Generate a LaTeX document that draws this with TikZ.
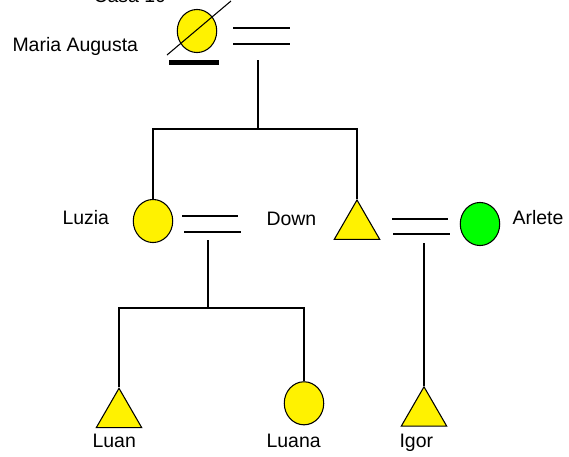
\documentclass[tikz,border=0pt]{standalone}
\usepackage{fontspec}
\setmainfont{Liberation Sans}
\usetikzlibrary{shapes.geometric}
\tikzset{
  fem/.style={draw, ellipse, fill=yellow, inner sep=0pt, minimum width=29.6pt, minimum height=32.3pt},
  fembox/.style={fem, fill=green},
  masc/.style={draw, regular polygon, regular polygon sides=3, fill=yellow, inner sep=0pt, minimum size=39.3pt},
  nome/.style={font=\fontsize{14.6}{17}\selectfont, inner sep=0pt, anchor=base west},
}
\begin{document}
\begin{tikzpicture}[x=0.75pt, y=-0.75pt, line width=0.8pt]
\useasboundingbox (0,0) rectangle (569,457);
\node[nome] (casa) at (93,2) {Casa 10};
\node[fem] (maria) at (197,31) {};
\node[nome] (mariaT) at (12,51) {Maria Augusta};
\draw (167,55) -- (231,1);
\fill (169,60) rectangle (219,65);
\node[fem] (luzia) at (153,221) {};
\node[nome] (luziaT) at (62,224.5) {Luzia};
\node[masc] (down) at (357,226.2) {};
\node[nome] (downT) at (266,225) {Down};
\node[fembox] (arlete) at (480,224) {};
\node[nome] (arleteT) at (512,224.5) {Arlete};
\node[masc] (luan) at (119,414.5) {};
\node[nome] (luanT) at (92,447.5) {Luan};
\node[fem] (luana) at (304,403.3) {};
\node[nome] (luanaT) at (266,447.5) {Luana};
\node[masc] (igor) at (424,413) {};
\node[nome] (igorT) at (399,447.5) {Igor};

\coordinate (c1a) at (233,28); \coordinate (c1b) at (290,28);
\coordinate (c1c) at (233,44); \coordinate (c1d) at (290,44);
\coordinate (c1) at (258,60); \coordinate (f1) at (258,129);
\coordinate (c2a) at (182,216); \coordinate (c2b) at (238,216);
\coordinate (c2c) at (184,232); \coordinate (c2d) at (241,232);
\coordinate (c2) at (208,240); \coordinate (f2) at (208,308);
\coordinate (c3a) at (392,219); \coordinate (c3b) at (448,219);
\coordinate (c3c) at (393,234); \coordinate (c3d) at (450,234);
\coordinate (c3) at (424,243);

\draw (c1a) -- (c1b);
\draw (c1c) -- (c1d);
\draw (c1) -- (f1);
\draw (luzia.north) |- (f1) -| (down.north);
\draw (c2a) -- (c2b);
\draw (c2c) -- (c2d);
\draw (c2) -- (f2);
\draw (luan.north) |- (f2) -| (luana.north);
\draw (c3a) -- (c3b);
\draw (c3c) -- (c3d);
\draw (c3) -- (igor.north);
\end{tikzpicture}
\end{document}
